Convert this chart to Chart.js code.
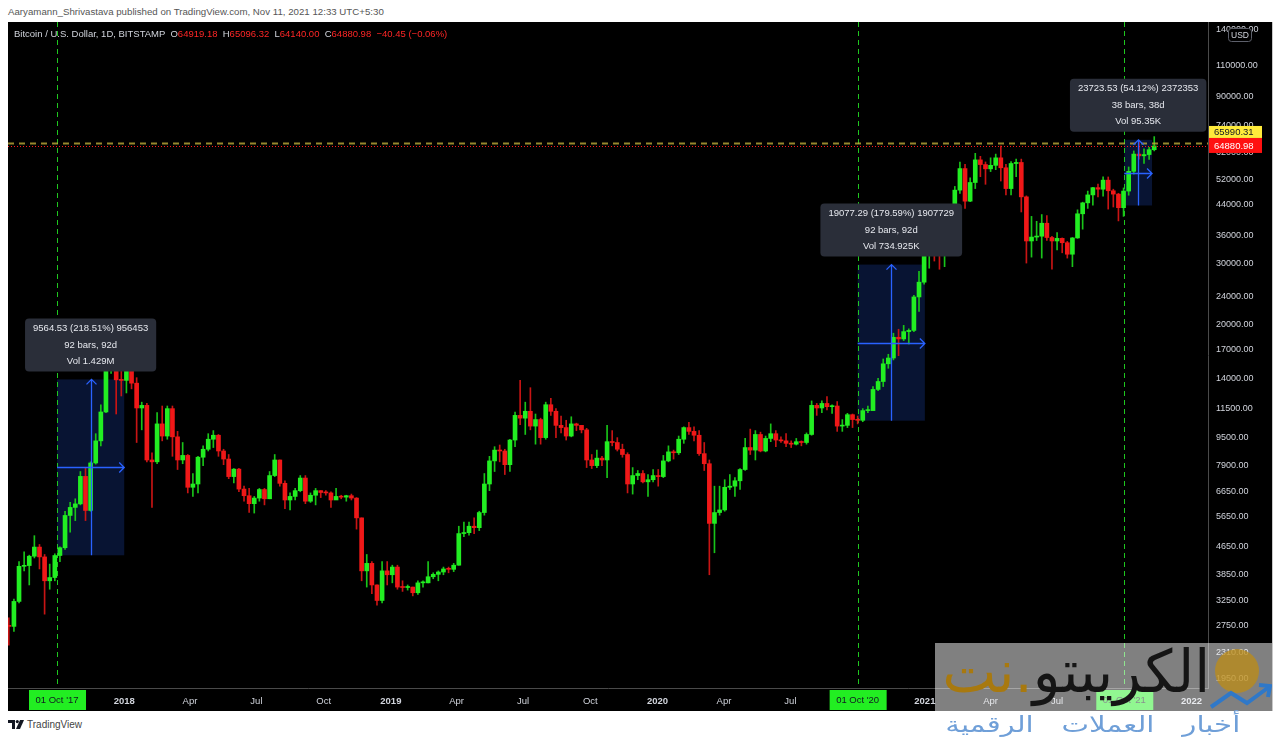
<!DOCTYPE html>
<html>
<head>
<meta charset="utf-8">
<script src="https://cdn.jsdelivr.net/npm/chart.js@4.4.0/dist/chart.umd.min.js"></script>
<style>
  body { margin: 0; width: 1280px; height: 740px; background: #fff; overflow: hidden; position: relative; font-family: "Liberation Sans", Arial, sans-serif; }
  #pub { position: absolute; left: 8px; top: 6px; font-size: 9.7px; color: #555; }
  #panel { position: absolute; left: 8px; top: 22px; width: 1264px; height: 689px; background: #000; }
  #btc { position: absolute; left: 0; top: 0; }
  #edge { position: absolute; left: 1272px; top: 22px; width: 1px; height: 689px; background: #c8c8c8; }
  #legend { position: absolute; left: 6px; top: 6px; font-size: 9.5px; color: #d1d4dc; white-space: pre; }
  #legend .r { color: #ff2626; }
  #wm { position: absolute; left: 935px; top: 643px; width: 337px; height: 68px; background: rgba(255,255,255,0.5); overflow: hidden; }
  #wmtext { position: absolute; right: 62px; top: -6px; font-family: "DejaVu Sans", sans-serif; font-size: 59px; color: #151515; white-space: nowrap; transform-origin: right top; }
  #wmtext .g { color: #a8790f; }
  #coin { position: absolute; left: 280px; top: 6px; width: 44px; height: 44px; border-radius: 50%; background: rgba(190,140,20,0.75); }
  #sub { position: absolute; right: 40px; top: 712px; font-family: "DejaVu Sans", sans-serif; font-size: 22px; color: #6f9fd8; word-spacing: 14px; white-space: nowrap; transform-origin: right top; }
  #tv { position: absolute; left: 8px; top: 719px; font-size: 10px; color: #444; }
  #tv svg { vertical-align: -1px; margin-right: 3px; }
</style>
</head>
<body>
<div id="pub">Aaryamann_Shrivastava published on TradingView.com, Nov 11, 2021 12:33 UTC+5:30</div>
<div id="panel">
  <canvas id="btc" width="1264" height="689"></canvas>
  <div id="legend">Bitcoin / U.S. Dollar, 1D, BITSTAMP  O<span class="r">64919.18</span>  H<span class="r">65096.32</span>  L<span class="r">64140.00</span>  C<span class="r">64880.98</span>  <span class="r">−40.45 (−0.06%)</span></div>
</div>
<div id="edge"></div>
<div id="wm">
  <div id="wmtext" dir="rtl">الكريبتو<span class="g">.نت</span></div>
  <div id="coin"></div>
  <svg width="337" height="68" style="position:absolute;left:0;top:0">
    <polyline points="276,64 296,50 312,60 334,44" fill="none" stroke="#2f78c8" stroke-width="4"/>
    <polyline points="324,42 335,43 333,54" fill="none" stroke="#2f78c8" stroke-width="4"/>
  </svg>
</div>
<div id="sub" dir="rtl">أخبار العملات الرقمية</div>
<div id="tv"><svg width="16" height="9"><path d="M0 0h7v9h-3v-6h-4z" fill="#131722"/><circle cx="9.3" cy="1.6" r="1.6" fill="#131722"/><path d="M12 0h4l-4 9h-4z" fill="#131722"/></svg>TradingView</div>

<script>
// Bitcoin / USD (Bitstamp), weekly candles, Jul 2017 - Nov 2021
const firstWeek = '2017-07-24';
const firstOpen = 2750;

const closes = [
  2740, 3230, 4070, 4090, 4350, 4620, 4330, 3700, 3780, 4370, 4600, 5690, 6000, 6140, 7360, 5880, 8040, 9300, 11250, 15200, 19100, 13900, 13850,
  16200, 13600, 11550, 11750, 8200, 8100, 10400, 9600, 11500, 9550, 8200, 8450, 6850, 7000, 8350, 8800, 9400, 9650, 8700, 8250, 7350, 7720, 6770, 6480, 6150, 6380, 6750, 6350, 7400, 8200, 7030, 6300, 6450, 6700, 7280, 6250, 6500, 6700, 6620, 6600, 6300, 6450, 6420, 6480, 6380, 5600, 3950, 4150, 3600, 3250, 3950, 3850, 4050,
  3550, 3540, 3550, 3420, 3650, 3650, 3800, 3860, 3920, 4000, 3990, 4100, 5050, 5080, 5300, 5250, 5800, 7000, 8150, 8750, 8700, 7950, 9350, 11000, 10800, 11300, 10250, 10700, 9500, 11800, 11300, 10300, 10150, 9600, 10400, 10300, 10000, 8200, 7900, 8300, 8200, 9250, 9200, 8800, 8500, 7000, 7400, 7500, 7100, 7200, 7400, 7350,
  8150, 8650, 8600, 9400, 10150, 9900, 9650, 8550, 8000, 5400, 5800, 5900, 6850, 6900, 7150, 7700, 8900, 8750, 9700, 8700, 9450, 9750, 9350, 9300, 9150, 9100, 9250, 9200, 9700, 11750, 11550, 11900, 11650, 11700, 10250, 10300, 11050, 10700, 10650, 11350, 11350, 13050, 13750, 15450, 16050, 18400, 18200, 19100, 19250, 24000, 26450, 32200,
  38200, 36050, 32100, 34300, 39200, 48500, 55900, 45100, 51000, 59200, 57400, 55800, 57100, 60000, 56200, 49000, 57800, 58200, 46400, 34700, 35600, 35800, 39000, 35500, 34700, 35300, 34300, 31800, 35400, 41500, 44600, 47000, 49300, 48800, 51800, 48300, 47250, 43200, 48200, 54900, 61500, 60800, 61300, 63300, 64880
];
const highs = [
  2900, 3280, 4200, 4480, 4380, 4980, 4700, 4400, 4130, 4420, 4630, 5850, 6200, 6350, 7600, 7800, 8100, 9750, 11800, 17200, 19700, 19200, 16500,
  17250, 17000, 14100, 12000, 11900, 8600, 11200, 11700, 11700, 11700, 9900, 9200, 8500, 7500, 8400, 9000, 9750, 9950, 9700, 8800, 8500, 7750, 7760, 6900, 6800, 6450, 6800, 6800, 7600, 8500, 8200, 7150, 6600, 6800, 7400, 7400, 6600, 6800, 6700, 6700, 6650, 6800, 6500, 6500, 6550, 6400, 5600, 4400, 4200, 3600, 4200, 4200, 4100,
  4100, 3700, 3600, 3550, 3700, 3700, 4200, 3900, 3950, 4050, 4050, 4150, 5300, 5450, 5450, 5600, 5850, 7500, 8400, 8950, 9050, 8800, 9400, 11250, 13850, 12000, 13200, 11100, 10800, 12000, 12300, 11500, 10950, 10650, 10900, 10450, 10300, 10100, 8500, 8750, 8400, 10300, 9950, 9500, 9100, 8600, 7800, 7650, 7650, 7450, 7700, 7700,
  8450, 9000, 8750, 9600, 10200, 10500, 10200, 9950, 9200, 8200, 6900, 6900, 7200, 7450, 7300, 7750, 9450, 10050, 9950, 9850, 9600, 10400, 9950, 9550, 9750, 9300, 9450, 9300, 9800, 12100, 11900, 12100, 12450, 11800, 12050, 10700, 11150, 11100, 10950, 11500, 11700, 13300, 14050, 15950, 16450, 18900, 19400, 19900, 19450, 24250, 28400, 34000,
  41950, 40100, 37800, 38500, 41000, 49700, 58300, 57500, 52600, 61800, 60600, 58400, 60000, 61500, 64900, 57500, 58500, 59500, 59500, 46700, 40800, 39500, 41300, 41000, 35800, 36700, 35400, 34600, 35500, 42600, 44800, 48200, 49400, 50500, 52900, 52900, 48800, 47500, 49200, 56500, 62800, 67000, 63700, 64300, 69000
];
const lows = [
  2420, 2650, 3200, 3950, 3600, 4300, 4000, 2970, 3500, 3700, 4200, 4550, 5100, 5500, 6100, 5500, 5850, 7980, 9000, 11200, 14500, 11100, 12500,
  12750, 13100, 9200, 10000, 8100, 6000, 8000, 9300, 9400, 8400, 7700, 8000, 6600, 6450, 6600, 7900, 8700, 8900, 8400, 7950, 7250, 7050, 6650, 6250, 5800, 5780, 6250, 6100, 6350, 7350, 6900, 5950, 5900, 6300, 6650, 6150, 6200, 6100, 6400, 6500, 6000, 6350, 6350, 6250, 6300, 5200, 3700, 3550, 3400, 3150, 3200, 3600, 3650,
  3500, 3450, 3480, 3350, 3380, 3550, 3650, 3750, 3700, 3850, 3900, 3930, 4100, 4950, 5000, 5050, 5150, 5700, 6700, 7600, 8100, 7450, 7600, 8950, 10350, 9700, 10000, 9100, 9100, 9400, 11000, 9500, 9800, 9350, 9550, 9950, 9800, 7800, 7750, 7800, 7900, 7300, 9000, 8700, 8350, 6600, 6550, 7200, 7050, 6450, 7100, 6900,
  7300, 8100, 8250, 8500, 9150, 9700, 9300, 8450, 7650, 3850, 4450, 5700, 5850, 6750, 6450, 6750, 7650, 8500, 8200, 8650, 8650, 9250, 8950, 9200, 8950, 8900, 9050, 9000, 9100, 9650, 11000, 11200, 11400, 11150, 9900, 9900, 10150, 10150, 10400, 10550, 11200, 11400, 12950, 13300, 15000, 15850, 16300, 18000, 17600, 19100, 21800, 26100,
  29000, 30400, 28800, 29300, 32300, 37900, 47500, 43000, 44950, 49000, 53000, 50400, 54800, 55500, 51500, 47000, 47000, 53000, 42000, 30000, 31200, 34800, 31000, 34800, 28800, 32700, 32100, 31000, 29300, 35300, 37500, 43000, 43900, 46400, 46600, 42800, 43400, 39600, 40800, 46900, 53900, 59500, 57800, 59400, 62800
];

const priceTicks = [140000, 110000, 90000, 74000, 62000, 52000, 44000, 36000, 30000, 24000, 20000, 17000, 14000, 11500, 9500, 7900, 6650, 5650, 4650, 3850, 3250, 2750, 2310, 1950];

const timeTickDates = ['2017-10-01', '2018-01-01', '2018-04-01', '2018-07-01', '2018-10-01', '2019-01-01', '2019-04-01', '2019-07-01', '2019-10-01',
  '2020-01-01', '2020-04-01', '2020-07-01', '2020-10-01', '2021-01-01', '2021-04-01', '2021-07-01', '2021-10-01', '2022-01-01'];
const timeTickLabels = ["01 Oct '17", '2018', 'Apr', 'Jul', 'Oct', '2019', 'Apr', 'Jul', 'Oct',
  '2020', 'Apr', 'Jul', "01 Oct '20", '2021', 'Apr', 'Jul', "01 Oct '21", '2022'];
const markedDates = ['2017-10-01', '2020-10-01', '2021-10-01'];

// the three price-range measurements
const rangeStart = ['2017-10-01', '2020-10-01', '2021-10-01'];
const rangeBars = [92, 92, 38];
const rangeFrom = [4377, 10623, 43835];
const rangeTo = [13941, 29700, 67558];
const rangeText = [
  ['9564.53 (218.51%) 956453', '92 bars, 92d', 'Vol 1.429M'],
  ['19077.29 (179.59%) 1907729', '92 bars, 92d', 'Vol 734.925K'],
  ['23723.53 (54.12%) 2372353', '38 bars, 38d', 'Vol 95.35K']
];
const lastClose = 64880.98;
const markLevel = 65990.31;

// days counted from 1 Oct 2017
const DAY = 86400000;
const origin = Date.parse('2017-10-01T00:00:00Z');
const dayOf = s => (Date.parse(s + 'T00:00:00Z') - origin) / DAY;
const week0 = dayOf(firstWeek);

const opens = closes.map((c, i) => i ? closes[i - 1] : firstOpen);
const xs = closes.map((c, i) => week0 + 7 * i + 3);
const up = closes.map((c, i) => c >= opens[i]);

const wicks = xs.map((x, i) => ({ x: x, y: [lows[i], highs[i]] }));
const bodies = xs.map((x, i) => ({ x: x, y: [opens[i], closes[i]] }));

const tickDays = timeTickDates.map(dayOf);
const markedDays = markedDates.map(dayOf);
const FONT = '"Liberation Sans", Arial, sans-serif';

function roundRect(ctx, x, y, w, h, r) {
  ctx.beginPath();
  ctx.moveTo(x + r, y);
  ctx.arcTo(x + w, y, x + w, y + h, r);
  ctx.arcTo(x + w, y + h, x, y + h, r);
  ctx.arcTo(x, y + h, x, y, r);
  ctx.arcTo(x, y, x + w, y, r);
  ctx.closePath();
}

// no label padding around the plot: it fills the panel up to the axes
const noPad = s => { s.paddingTop = 0; s.paddingBottom = 0; s.paddingLeft = 0; s.paddingRight = 0; };

const overlay = {
  id: 'overlay',
  beforeDatasetsDraw(chart) {
    const { ctx, chartArea: a, scales: { x, y } } = chart;
    ctx.save();
    // range boxes
    rangeStart.forEach((s, i) => {
      const x1 = x.getPixelForValue(dayOf(s)), x2 = x.getPixelForValue(dayOf(s) + rangeBars[i]);
      const y1 = y.getPixelForValue(rangeTo[i]), y2 = y.getPixelForValue(rangeFrom[i]);
      ctx.fillStyle = 'rgba(41,98,255,0.2)';
      ctx.fillRect(x1, y1, x2 - x1, y2 - y1);
    });
    // green dashed date markers
    ctx.strokeStyle = '#1fc81f';
    ctx.lineWidth = 1;
    ctx.setLineDash([5, 4]);
    markedDays.forEach(d => {
      const px = Math.round(x.getPixelForValue(d)) + 0.5;
      ctx.beginPath(); ctx.moveTo(px, a.top); ctx.lineTo(px, a.bottom); ctx.stroke();
    });
    ctx.restore();
  },
  afterDatasetsDraw(chart) {
    const { ctx, chartArea: a, scales: { x, y } } = chart;
    ctx.save();
    // price lines
    let py = y.getPixelForValue(markLevel);
    ctx.strokeStyle = 'rgba(200,180,60,0.75)';
    ctx.lineWidth = 2;
    ctx.setLineDash([6, 5]);
    ctx.beginPath(); ctx.moveTo(a.left, py); ctx.lineTo(a.right, py); ctx.stroke();
    py = Math.round(y.getPixelForValue(lastClose)) + 0.5;
    ctx.strokeStyle = '#ff1a1a';
    ctx.lineWidth = 1;
    ctx.setLineDash([1, 2]);
    ctx.beginPath(); ctx.moveTo(a.left, py); ctx.lineTo(a.right, py); ctx.stroke();
    ctx.setLineDash([]);

    // arrows and labels of the ranges
    rangeStart.forEach((s, i) => {
      const x1 = x.getPixelForValue(dayOf(s)), x2 = x.getPixelForValue(dayOf(s) + rangeBars[i]);
      const y1 = y.getPixelForValue(rangeTo[i]), y2 = y.getPixelForValue(rangeFrom[i]);
      const cx = Math.round((x1 + x2) / 2) + 0.5, cy = Math.round((y1 + y2) / 2) + 0.5;
      ctx.strokeStyle = '#2962ff';
      ctx.lineWidth = 1.3;
      ctx.beginPath();
      ctx.moveTo(cx, y2); ctx.lineTo(cx, y1);
      ctx.moveTo(cx - 5, y1 + 5); ctx.lineTo(cx, y1); ctx.lineTo(cx + 5, y1 + 5);
      ctx.moveTo(x1, cy); ctx.lineTo(x2, cy);
      ctx.moveTo(x2 - 5, cy - 5); ctx.lineTo(x2, cy); ctx.lineTo(x2 - 5, cy + 5);
      ctx.stroke();

      ctx.font = '9.5px ' + FONT;
      const w = Math.max(...rangeText[i].map(t => ctx.measureText(t).width)) + 16;
      const h = 53, bx = (x1 + x2) / 2 - w / 2, by = y1 - 8 - h;
      ctx.fillStyle = '#2a2e39';
      roundRect(ctx, bx, by, w, h, 4);
      ctx.fill();
      ctx.fillStyle = '#e6e8ee';
      ctx.textAlign = 'center';
      ctx.textBaseline = 'middle';
      rangeText[i].forEach((t, k) => ctx.fillText(t, (x1 + x2) / 2, by + 10 + k * 16.5));
    });
    ctx.restore();
  },
  afterDraw(chart) {
    const { ctx, chartArea: a, scales: { x, y } } = chart;
    ctx.save();
    ctx.font = '9.5px ' + FONT;
    ctx.textBaseline = 'middle';
    ctx.textAlign = 'left';
    // price tags on the axis
    const yl = y.getPixelForValue(lastClose);
    ctx.fillStyle = '#ff1010';
    ctx.fillRect(a.right + 1, yl - 8, 53, 15);
    ctx.fillStyle = '#fff';
    ctx.fillText(lastClose.toFixed(2), a.right + 6, yl);
    ctx.fillStyle = '#ffeb3b';
    ctx.fillRect(a.right + 1, yl - 20, 53, 12);
    ctx.fillStyle = '#131722';
    ctx.fillText(markLevel.toFixed(2), a.right + 6, yl - 14);

    // currency badge
    ctx.fillStyle = '#000';
    roundRect(ctx, a.right + 20.5, 6.5, 23, 13, 3);
    ctx.fill();
    ctx.strokeStyle = '#5d606b';
    ctx.lineWidth = 1;
    ctx.stroke();
    ctx.fillStyle = '#d1d4dc';
    ctx.font = '8.5px ' + FONT;
    ctx.textAlign = 'center';
    ctx.fillText('USD', a.right + 32, 13.5);

    // highlighted dates on the time axis
    ctx.font = '9.5px ' + FONT;
    markedDays.forEach(d => {
      const i = tickDays.indexOf(d);
      const px = x.getPixelForValue(d);
      ctx.fillStyle = '#22ee22';
      ctx.fillRect(px - 28, a.bottom + 2, 57, 20);
      ctx.fillStyle = '#131722';
      ctx.fillText(timeTickLabels[i], px, a.bottom + 12.5);
    });
    ctx.restore();
  }
};

new Chart(document.getElementById('btc').getContext('2d'), {
  type: 'bar',
  data: {
    datasets: [
      {
        label: 'wick',
        data: wicks,
        backgroundColor: up.map(u => u ? '#19c419' : '#c81414'),
        barThickness: 1,
        grouped: false,
        order: 2
      },
      {
        label: 'body',
        data: bodies,
        backgroundColor: up.map(u => u ? '#22ee22' : '#f01818'),
        barThickness: 4,
        minBarLength: 1,
        grouped: false,
        order: 1
      }
    ]
  },
  options: {
    responsive: false,
    animation: false,
    devicePixelRatio: 1,
    layout: { padding: 0, autoPadding: false },
    plugins: { legend: { display: false }, tooltip: { enabled: false } },
    scales: {
      x: {
        type: 'linear',
        min: -67.1,
        max: 1575.6,
        offset: false,
        grid: { display: false },
        border: { display: true, color: '#4a4a4a' },
        afterBuildTicks: s => { s.ticks = tickDays.map(v => ({ value: v })); },
        afterFit: s => { s.height = 23; noPad(s); },
        ticks: {
          autoSkip: false,
          maxRotation: 0,
          padding: 0,
          color: '#d1d4dc',
          font: c => ({ family: FONT, size: 9.5, weight: /^\d{4}$/.test(timeTickLabels[c.index] || '') ? 'bold' : 'normal' }),
          callback: (v, i) => markedDays.includes(v) ? '' : timeTickLabels[i]
        }
      },
      y: {
        type: 'logarithmic',
        position: 'right',
        min: 1826,
        max: 146800,
        grid: { display: false },
        border: { display: true, color: '#4a4a4a' },
        afterBuildTicks: s => { s.ticks = priceTicks.map(v => ({ value: v })); },
        afterFit: s => { s.width = 64; noPad(s); },
        ticks: {
          autoSkip: false,
          padding: 0,
          color: '#d1d4dc',
          font: { family: FONT, size: 9 },
          callback: v => Number(v).toFixed(2)
        }
      }
    }
  },
  plugins: [overlay]
});

// stretch the watermark lines to the widths seen in the picture
[['wmtext', 268], ['sub', 295]].forEach(([id, target]) => {
  const el = document.getElementById(id);
  el.style.transform = 'scaleX(' + (target / el.getBoundingClientRect().width) + ')';
});
</script>
</body>
</html>
